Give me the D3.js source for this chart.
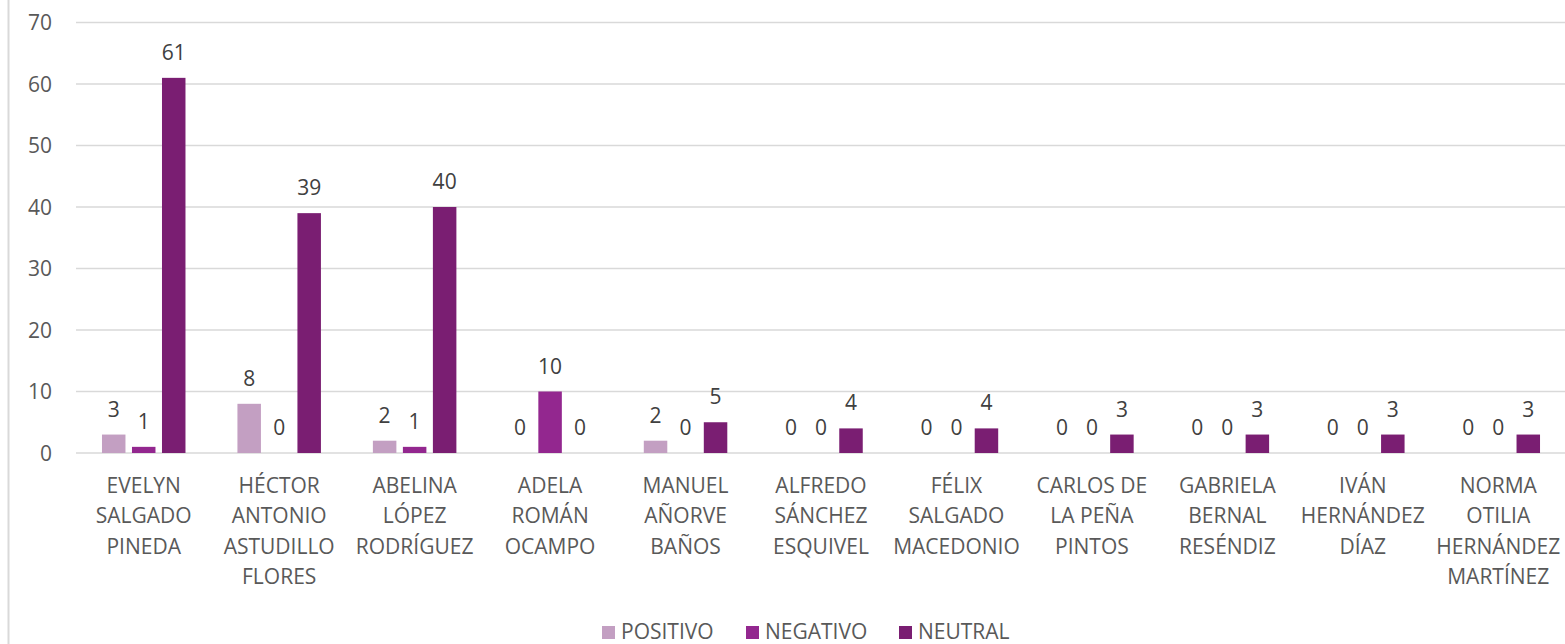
<!doctype html>
<html lang="es">
<head>
<meta charset="utf-8">
<style>
  html, body { margin: 0; padding: 0; background: #fff; }
  svg { display: block; font-family: "Open Sans", sans-serif; }
</style>
</head>
<body>
<div id="grafico"></div>
<script src="https://d3js.org/d3.v7.min.js"></script>
<script>
// datos
var categorias = [
  "EVELYN\nSALGADO\nPINEDA",
  "HÉCTOR\nANTONIO\nASTUDILLO\nFLORES",
  "ABELINA\nLÓPEZ\nRODRÍGUEZ",
  "ADELA\nROMÁN\nOCAMPO",
  "MANUEL\nAÑORVE\nBAÑOS",
  "ALFREDO\nSÁNCHEZ\nESQUIVEL",
  "FÉLIX\nSALGADO\nMACEDONIO",
  "CARLOS DE\nLA PEÑA\nPINTOS",
  "GABRIELA\nBERNAL\nRESÉNDIZ",
  "IVÁN\nHERNÁNDEZ\nDÍAZ",
  "NORMA\nOTILIA\nHERNÁNDEZ\nMARTÍNEZ"
];
var series = ["POSITIVO", "NEGATIVO", "NEUTRAL"];
var positivo = [3, 8, 2, 0, 2, 0, 0, 0, 0, 0, 0];
var negativo = [1, 0, 1, 10, 0, 0, 0, 0, 0, 0, 0];
var neutral  = [61, 39, 40, 0, 5, 4, 4, 3, 3, 3, 3];
var yTicks = [0, 10, 20, 30, 40, 50, 60, 70];
var colores = ["#C39FC2", "#93278F", "#7A1E72"];

var ancho = 1565, alto = 644;
var valores = [positivo, negativo, neutral];

var svg = d3.select("#grafico").append("svg")
  .attr("width", ancho).attr("height", alto);

// borde izquierdo
svg.append("line").attr("x1", 8.5).attr("x2", 8.5).attr("y1", 0).attr("y2", alto)
  .attr("stroke", "#D9D9D9").attr("stroke-width", 2);

var x0 = d3.scaleBand().domain(categorias).range([76, 1566]).padding(0);
var x1 = d3.scaleBand().domain(series).range([0, 83.5]).paddingInner(0.217).paddingOuter(0);
var offset = (x0.bandwidth() - 83.5) / 2;
var y = d3.scaleLinear().domain([0, 70]).range([453, 22.5]);

// rejilla
svg.append("g").selectAll("line").data(yTicks).enter().append("line")
  .attr("x1", 76).attr("x2", ancho)
  .attr("y1", function(d){ return y(d); }).attr("y2", function(d){ return y(d); })
  .attr("stroke", "#D9D9D9").attr("stroke-width", 1.5);

// eje y
svg.append("g").selectAll("text").data(yTicks).enter().append("text")
  .attr("x", 52).attr("y", function(d){ return y(d); })
  .attr("dy", "0.36em").attr("text-anchor", "end")
  .attr("font-size", 21).attr("fill", "#595959")
  .text(function(d){ return d; });

// barras
var grupo = svg.selectAll("g.cat").data(categorias).enter().append("g")
  .attr("class", "cat")
  .attr("transform", function(d){ return "translate(" + (x0(d) + offset) + ",0)"; });

series.forEach(function(s, k) {
  grupo.append("rect")
    .attr("x", x1(s)).attr("width", x1.bandwidth())
    .attr("y", function(d, i){ return y(valores[k][i]); })
    .attr("height", function(d, i){ return y(0) - y(valores[k][i]); })
    .attr("fill", colores[k]);
  grupo.append("text")
    .attr("x", x1(s) + x1.bandwidth() / 2)
    .attr("y", function(d, i){ return y(valores[k][i]) - 18; })
    .attr("text-anchor", "middle").attr("font-size", 21).attr("fill", "#404040")
    .text(function(d, i){ return valores[k][i]; });
});

// etiquetas de categorias
var etiquetas = svg.selectAll("text.cat").data(categorias).enter().append("text")
  .attr("class", "cat")
  .attr("text-anchor", "middle").attr("font-size", 21).attr("fill", "#595959");
etiquetas.each(function(d) {
  var t = d3.select(this);
  d.split("\n").forEach(function(linea, j) {
    t.append("tspan").attr("x", x0(d) + x0.bandwidth() / 2)
      .attr("y", 493 + j * 30.3).text(linea);
  });
});

// leyenda
var leyendaX = [602, 746, 899];
var leyenda = svg.selectAll("g.ley").data(series).enter().append("g")
  .attr("class", "ley")
  .attr("transform", function(d, i){ return "translate(" + leyendaX[i] + ",626)"; });
leyenda.append("rect").attr("width", 13).attr("height", 13)
  .attr("fill", function(d, i){ return colores[i]; });
leyenda.append("text").attr("x", 19).attr("y", 13)
  .attr("font-size", 21).attr("fill", "#595959")
  .text(function(d){ return d; });
</script>
</body>
</html>
